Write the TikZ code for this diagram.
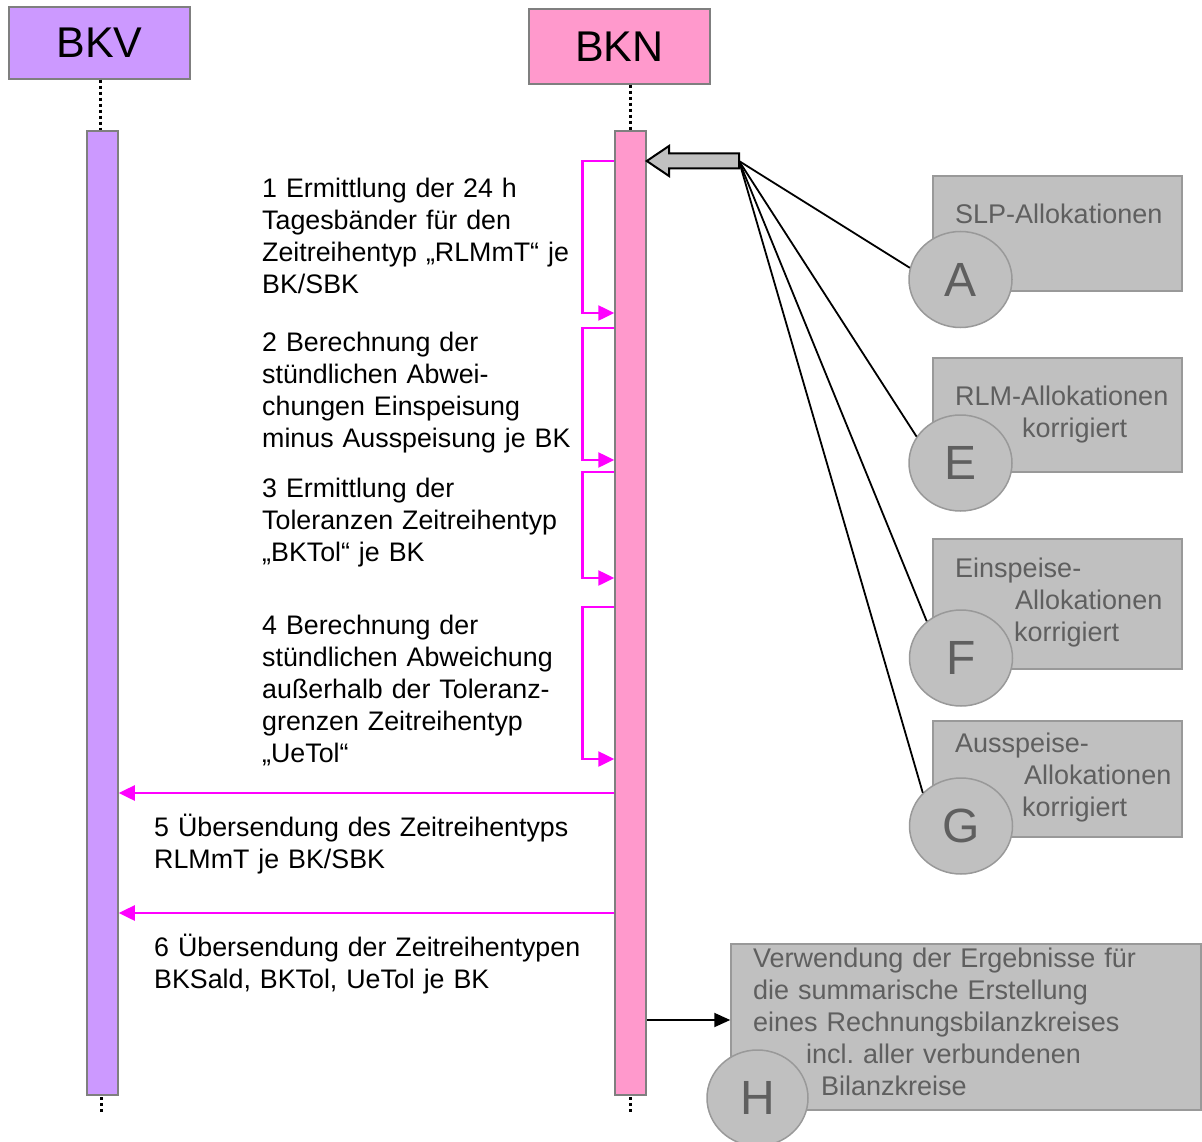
\documentclass[tikz,border=0pt]{standalone}
\usepackage{fontspec}
\setmainfont{Liberation Sans}
\usetikzlibrary{arrows.meta,shapes.geometric}
\definecolor{bkvfill}{HTML}{CC99FF}
\definecolor{bknfill}{HTML}{FF99CC}
\definecolor{note}{HTML}{C0C0C0}
\definecolor{noteedge}{HTML}{999999}
\definecolor{notetext}{HTML}{5F5F5F}
\definecolor{msgcol}{HTML}{FF00FF}
\definecolor{baredge}{HTML}{7F7F7F}
\frenchspacing

\begin{document}
\begin{tikzpicture}[x=1pt,y=-1pt,
  actor/.style={draw=baredge, line width=1.5pt, minimum width=181pt, inner sep=0,
    font=\fontsize{43}{50}\selectfont},
  bar/.style={draw=baredge, line width=1.5pt, minimum width=31pt, minimum height=964pt, inner sep=0},
  life/.style={line width=3pt, dash pattern=on 3pt off 3pt},
  msgline/.style={draw=msgcol, line width=2.5pt, -{Triangle[length=16pt,width=15pt]}},
  steptext/.style={anchor=base west, inner sep=0, text width=700pt, align=left,
    font=\fontsize{26.8}{32}\selectfont},
  notebox/.style={draw=noteedge, fill=note, line width=1.5pt, inner sep=0},
  notetxt/.style={anchor=base west, inner sep=0, text width=700pt, align=left, text=notetext,
    font=\fontsize{27}{32}\selectfont},
  tag/.style={ellipse, draw=noteedge, fill=note, line width=1.5pt, minimum width=103pt,
    minimum height=96pt, inner sep=0, text=notetext, font=\fontsize{48}{50}\selectfont},
  fanline/.style={line width=1.8pt}
]
\useasboundingbox (0,0) rectangle (1202,1142);

% actors with their lifelines
\node[actor, fill=bkvfill, minimum height=72pt] (bkv) at (99.5,43) {BKV};
\node[actor, fill=bknfill, minimum height=75pt] (bkn) at (619.5,46.5) {BKN};

\coordinate (vtop) at (100,131);
\coordinate (ntop) at (630.5,131);
\draw[life] (bkv.south -| vtop) -- (vtop);
\draw[life] (bkn.south -| ntop) -- (ntop);
\draw[life] (101,1097) -- (101,1112);
\draw[life] (630.5,1097) -- (630.5,1112);

\node[bar, fill=bkvfill] (vbar) at (102.5,613) {};
\node[bar, fill=bknfill] (nbar) at (630.5,613) {};

% internal steps of BKN
\draw[msgline] (nbar.west |- 0,161) -- ++(-32,0) |- (nbar.west |- 0,313);
\draw[msgline] (nbar.west |- 0,328) -- ++(-32,0) |- (nbar.west |- 0,460);
\draw[msgline] (nbar.west |- 0,472) -- ++(-32,0) |- (nbar.west |- 0,578);
\draw[msgline] (nbar.west |- 0,607) -- ++(-32,0) |- (nbar.west |- 0,759);

\node[steptext] (t1) at (262,198) {1 Ermittlung der 24 h\\Tagesbänder für den\\Zeitreihentyp „RLMmT“ je\\BK/SBK};
\node[steptext] (t2) at (262,351) {2 Berechnung der\\stündlichen Abwei-\\chungen Einspeisung\\minus Ausspeisung je BK};
\node[steptext] (t3) at (262,497) {3 Ermittlung der\\Toleranzen Zeitreihentyp\\„BKTol“ je BK};
\node[steptext] (t4) at (262,634) {4 Berechnung der\\stündlichen Abweichung\\außerhalb der Toleranz-\\grenzen Zeitreihentyp\\„UeTol“};

% messages to BKV
\draw[msgline] (nbar.west |- 0,793) -- (vbar.east |- 0,793);
\draw[msgline] (nbar.west |- 0,913) -- (vbar.east |- 0,913);
\node[steptext] (t5) at (154,836) {5 Übersendung des Zeitreihentyps\\RLMmT je BK/SBK};
\node[steptext] (t6) at (154,956) {6 Übersendung der Zeitreihentypen\\BKSald, BKTol, UeTol je BK};

% input data boxes
\node[notebox, minimum width=249pt, minimum height=115pt] (nA) at (1057.5,233.5) {};
\node[notebox, minimum width=249pt, minimum height=114pt] (nE) at (1057.5,415) {};
\node[notebox, minimum width=249pt, minimum height=130pt] (nF) at (1057.5,604) {};
\node[notebox, minimum width=249pt, minimum height=116pt] (nG) at (1057.5,779) {};

\node[notetxt] (xA) at (955,223) {SLP-Allokationen};
\node[notetxt] (xE) at (955,405) {RLM-Allokationen\\\hspace*{67pt}korrigiert};
\node[notetxt] (xF) at (955,577) {Einspeise-\\\hspace*{60pt}Allokationen\\\hspace*{59pt}korrigiert};
\node[notetxt] (xG) at (955,752) {Ausspeise-\\\hspace*{69pt}Allokationen\\\hspace*{67pt}korrigiert};

\node[tag] (cA) at (960.5,279.5) {A};
\node[tag] (cE) at (960.5,463) {E};
\node[tag] (cF) at (961,658) {F};
\node[tag] (cG) at (961,826) {G};

% gray input arrow into BKN and its fan of sources
\coordinate (fan) at (739,161);
\draw[line width=2pt, fill=note, line join=miter]
  (fan) -- (739,153.5) -- (669,153.5) -- (669,146) -- (nbar.east |- fan)
  -- (669,176) -- (669,168.5) -- (739,168.5) -- cycle;
\draw[fanline] (fan) -- (cA.167);
\draw[fanline] (fan) -- (cE.149);
\draw[fanline] (fan) -- (cF.133);
\draw[fanline] (fan) -- (cG.139);

% use of the results
\node[notebox, minimum width=470pt, minimum height=166pt] (nH) at (966,1027) {};
\node[notetxt] (xH) at (753,967) {Verwendung der Ergebnisse für\\die summarische Erstellung\\eines Rechnungsbilanzkreises\\\hspace*{53pt}incl. aller verbundenen\\\hspace*{68pt}Bilanzkreise};
\node[tag, minimum width=101pt] (cH) at (757.5,1098) {H};
\draw[line width=2pt, -{Triangle[length=16pt,width=14pt]}] (nbar.east |- 0,1020) -- (nH.west |- 0,1020);

\end{tikzpicture}
\end{document}
